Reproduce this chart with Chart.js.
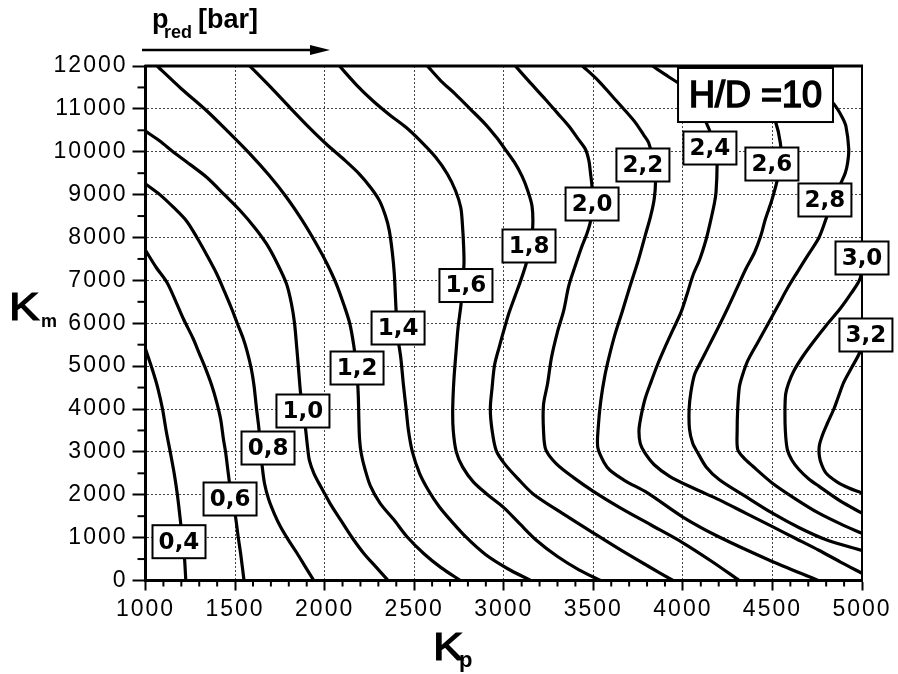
<!DOCTYPE html>
<html>
<head>
<meta charset="utf-8">
<title>p_red contours, H/D = 10</title>
<script src="https://cdn.jsdelivr.net/npm/chart.js@4.4.0/dist/chart.umd.min.js"></script>
<style>
  html, body { margin: 0; padding: 0; background: #fff; }
  #wrap { width: 898px; height: 674px; }
</style>
</head>
<body>
<div id="wrap"><canvas id="c" width="898" height="674"></canvas></div>
<script>
// Contour levels of p_red [bar] over the Kp / Km plane (H/D = 10)
const levels = ['0,4', '0,6', '0,8', '1,0', '1,2', '1,4', '1,6', '1,8', '2,0', '2,2', '2,4', '2,6', '2,8', '3,0', '3,2'];

// Each contour: [Kp, Km] pairs
const c04 = [[1000,5400],[1040,4900],[1068,4500],[1095,4000],[1115,3500],[1138,3000],[1160,2500],[1178,2000],[1192,1500],[1205,1000],[1218,500],[1225,0]];
const c06 = [[1000,7700],[1060,7300],[1120,6950],[1170,6500],[1212,6100],[1265,5650],[1300,5300],[1330,5000],[1370,4550],[1398,4150],[1420,3750],[1435,3300],[1447,3000],[1462,2500],[1478,2000],[1502,1500],[1518,1000],[1532,600],[1550,0]];
const c08 = [[1000,9250],[1080,9000],[1157,8700],[1230,8380],[1287,8000],[1345,7570],[1398,7150],[1440,6750],[1480,6350],[1512,6000],[1545,5650],[1567,5350],[1590,4950],[1605,4570],[1620,4000],[1633,3550],[1642,3100],[1651,2680],[1665,2250],[1688,1890],[1720,1550],[1753,1260],[1800,930],[1847,630],[1895,300],[1940,0]];
const c10 = [[1000,10480],[1080,10250],[1157,9990],[1250,9700],[1343,9400],[1440,9000],[1528,8630],[1610,8230],[1676,7850],[1735,7400],[1787,6920],[1815,6450],[1832,6000],[1845,5400],[1855,4900],[1865,4400],[1880,3900],[1893,3550],[1905,3100],[1915,2800],[1940,2500],[1977,2200],[2030,1800],[2088,1420],[2150,1020],[2219,630],[2290,300],[2355,0]];
const c12 = [[1065,12000],[1200,11470],[1343,10950],[1465,10450],[1583,9950],[1690,9450],[1787,8940],[1875,8400],[1954,7850],[2012,7400],[2065,6920],[2110,6400],[2140,6000],[2162,5500],[2180,4900],[2188,4300],[2191,3780],[2195,3300],[2205,2950],[2225,2600],[2256,2200],[2310,1800],[2386,1420],[2460,1020],[2553,630],[2650,300],[2758,0]];
const c14 = [[1582,12000],[1700,11500],[1806,11030],[1910,10580],[2009,10180],[2105,9830],[2194,9480],[2260,9150],[2306,8860],[2340,8500],[2361,8160],[2378,7650],[2389,7150],[2398,6380],[2408,5700],[2425,5200],[2440,4560],[2455,4000],[2468,3500],[2490,3000],[2530,2500],[2580,2100],[2640,1720],[2700,1420],[2790,1010],[2900,600],[3020,280],[3150,0]];
const c16 = [[2083,12000],[2180,11550],[2269,11190],[2360,10870],[2454,10570],[2540,10230],[2620,9870],[2685,9480],[2731,9090],[2760,8700],[2769,8320],[2776,7800],[2778,7390],[2770,6900],[2762,6460],[2745,5900],[2734,5350],[2722,4700],[2715,4000],[2718,3500],[2735,3000],[2770,2650],[2830,2300],[2910,2000],[3000,1700],[3090,1320],[3182,940],[3300,560],[3420,250],[3540,0]];
const c18 = [[2574,12000],[2650,11650],[2731,11340],[2815,10990],[2898,10640],[2960,10330],[3009,10050],[3060,9750],[3102,9430],[3135,9080],[3158,8730],[3162,8270],[3150,7800],[3126,7400],[3095,7000],[3061,6610],[3030,6250],[3005,5900],[2975,5450],[2949,5030],[2935,4500],[2925,4000],[2935,3500],[2958,3030],[3005,2720],[3080,2370],[3164,2020],[3330,1560],[3500,1110],[3650,720],[3800,350],[3945,0]];
const c20 = [[3065,12000],[3150,11600],[3233,11220],[3300,10900],[3363,10600],[3415,10300],[3456,10060],[3475,9800],[3484,9510],[3493,9160],[3490,8800],[3484,8380],[3465,8100],[3437,7800],[3400,7350],[3363,6870],[3335,6300],[3300,5800],[3266,5190],[3245,4600],[3222,4100],[3222,3500],[3235,3050],[3294,2720],[3390,2400],[3500,2080],[3648,1700],[3820,1300],[4000,880],[4160,450],[4315,0]];
const c22 = [[3440,12000],[3530,11650],[3605,11300],[3680,10950],[3735,10680],[3780,10400],[3809,10210],[3835,9800],[3847,9320],[3840,8900],[3820,8500],[3790,8050],[3750,7450],[3700,6800],[3660,6250],[3621,5740],[3590,5250],[3565,4790],[3542,4200],[3528,3600],[3525,3100],[3560,2750],[3593,2570],[3680,2320],[3800,2050],[4000,1480],[4200,1020],[4480,480],[4755,0]];
const c24 = [[3830,12000],[3920,11750],[3995,11530],[4070,11100],[4126,10720],[4165,10300],[4185,9900],[4191,9700],[4185,9050],[4176,8800],[4150,8300],[4130,7960],[4095,7500],[4056,7115],[4025,6700],[3991,6270],[3945,5850],[3898,5420],[3860,5050],[3824,4650],[3790,4250],[3765,3800],[3755,3500],[3762,3200],[3787,2980],[3840,2700],[3926,2430],[4060,2150],[4204,1880],[4350,1570],[4500,1255],[4630,980],[4759,706],[4880,430],[5000,170]];
const c26 = [[4240,12000],[4380,11500],[4480,11000],[4516,10720],[4544,10210],[4548,9800],[4526,9320],[4495,8850],[4460,8420],[4435,8040],[4400,7650],[4352,7270],[4300,6800],[4250,6350],[4195,5880],[4139,5420],[4100,5100],[4065,4800],[4045,4400],[4035,4000],[4037,3530],[4055,3200],[4083,2980],[4130,2650],[4204,2350],[4350,1960],[4500,1570],[4650,1230],[4800,950],[5000,700]];
const c28 = [[4633,12000],[4720,11650],[4800,11300],[4851,11070],[4890,10800],[4910,10600],[4926,10060],[4920,9750],[4907,9510],[4879,9240],[4840,8850],[4805,8500],[4760,8000],[4700,7600],[4640,7200],[4583,6810],[4530,6400],[4472,5960],[4415,5530],[4361,5115],[4330,4750],[4315,4500],[4306,4000],[4303,3500],[4306,3060],[4340,2860],[4389,2670],[4500,2270],[4630,1900],[4759,1570],[4880,1320],[5000,1100]];
const c30 = [[5000,7500],[4990,7050],[4940,6700],[4880,6350],[4800,5950],[4731,5580],[4670,5230],[4620,4890],[4590,4600],[4574,4350],[4570,4000],[4572,3500],[4583,3060],[4610,2800],[4648,2590],[4700,2380],[4759,2200],[4880,1850],[5000,1570]];
const c32 = [[5000,5700],[4990,5350],[4940,4950],[4898,4620],[4865,4250],[4843,4000],[4805,3650],[4780,3400],[4762,3150],[4762,2900],[4775,2700],[4800,2500],[4860,2300],[4930,2150],[5000,2040]];

const contours = [c04, c06, c08, c10, c12, c14, c16, c18, c20, c22, c24, c26, c28, c30, c32];

// Where each level tag sits (Kp, Km)
const tagKp = [1187, 1472, 1684, 1879, 2181, 2410, 2789, 3141, 3493, 3777, 4151, 4497, 4793, 5000, 5022];
const tagKm = [905, 1901, 3090, 3953, 4956, 5889, 6880, 7802, 8781, 9691, 10087, 9714, 8875, 7522, 5726];

// Parameter box (Kp, Km of its corners)
const paramText = 'H/D =10';
const paramBox = { kp0: 3973, kp1: 4838, km0: 10693, km1: 11954 };

const tickFont = { family: 'Liberation Sans', size: 23 };

function line(ctx, x1, y1, x2, y2, w) {
  ctx.lineWidth = w;
  ctx.beginPath();
  ctx.moveTo(x1, y1);
  ctx.lineTo(x2, y2);
  ctx.stroke();
}

function tag(ctx, cx, cy, text) {
  ctx.font = 'bold 23px "DejaVu Sans"';
  const tw = ctx.measureText(text).width;
  const w = Math.max(53, tw + 12), h = 33;
  ctx.fillStyle = '#fff';
  ctx.fillRect(cx - w / 2, cy - h / 2, w, h);
  ctx.strokeStyle = '#000';
  ctx.lineWidth = 2;
  ctx.strokeRect(cx - w / 2, cy - h / 2, w, h);
  ctx.fillStyle = '#000';
  ctx.textAlign = 'center';
  ctx.textBaseline = 'middle';
  ctx.fillText(text, cx, cy + 1);
}

// heavy text: fill plus a thin outline
function heavyText(ctx, text, x, y, w) {
  ctx.fillText(text, x, y);
  ctx.lineWidth = w;
  ctx.strokeText(text, x, y);
}

const decorations = {
  id: 'decorations',
  beforeDraw(chart) {
    chart.ctx.letterSpacing = '2px';
  },
  afterDraw(chart) {
    const { ctx, chartArea: a, scales: { x, y } } = chart;
    ctx.save();
    ctx.letterSpacing = '0px';
    ctx.strokeStyle = '#000';
    ctx.fillStyle = '#000';

    // frame: top and right edges
    line(ctx, a.left - 1, a.top, a.right + 1, a.top, 3);
    line(ctx, a.right, a.top, a.right, a.bottom, 2);

    // minor ticks
    for (let v = 1100; v < 5000; v += 100) {
      if (v % 500 === 0) continue;
      const px = x.getPixelForValue(v);
      line(ctx, px, a.bottom, px, a.bottom + 6, 2);
    }
    for (let v = 500; v < 12000; v += 1000) {
      const py = y.getPixelForValue(v);
      line(ctx, a.left - 8, py, a.left, py, 2);
    }

    // parameter box
    const bx0 = x.getPixelForValue(paramBox.kp0), bx1 = x.getPixelForValue(paramBox.kp1);
    const by0 = y.getPixelForValue(paramBox.km1), by1 = y.getPixelForValue(paramBox.km0);
    ctx.fillStyle = '#fff';
    ctx.fillRect(bx0, by0, bx1 - bx0, by1 - by0);
    ctx.lineWidth = 2;
    ctx.strokeRect(bx0, by0, bx1 - bx0, by1 - by0);
    ctx.fillStyle = '#000';
    ctx.font = '36px "Liberation Sans"';
    ctx.textAlign = 'center';
    ctx.textBaseline = 'middle';
    heavyText(ctx, paramText, (bx0 + bx1) / 2, (by0 + by1) / 2 + 2, 1.6);

    // level tags
    levels.forEach((t, i) => {
      tag(ctx, x.getPixelForValue(tagKp[i]), y.getPixelForValue(tagKm[i]), t);
    });

    // heading: p_red [bar] with arrow
    ctx.textAlign = 'left';
    ctx.textBaseline = 'alphabetic';
    ctx.font = 'bold 27px "Liberation Sans"';
    ctx.fillText('p', 152, 28);
    ctx.font = 'bold 18px "Liberation Sans"';
    ctx.fillText('red', 164, 38);
    ctx.font = 'bold 27px "Liberation Sans"';
    ctx.fillText('[bar]', 198, 28);
    line(ctx, 142, 50, 316, 50, 2.5);
    ctx.beginPath();
    ctx.moveTo(310, 45);
    ctx.lineTo(330, 50);
    ctx.lineTo(310, 55);
    ctx.closePath();
    ctx.fill();

    // axis titles
    ctx.save();
    ctx.translate(9, 320);
    ctx.scale(1.2, 1);
    ctx.font = '38px "Liberation Sans"';
    heavyText(ctx, 'K', 0, 0, 1.2);
    ctx.restore();
    ctx.font = 'bold 18px "Liberation Sans"';
    ctx.fillText('m', 41, 327);

    ctx.save();
    ctx.translate(433, 660);
    ctx.scale(1.2, 1);
    ctx.font = '38px "Liberation Sans"';
    heavyText(ctx, 'K', 0, 0, 1.2);
    ctx.restore();
    ctx.font = 'bold 22px "Liberation Sans"';
    ctx.fillText('p', 459, 667);

    ctx.restore();
  }
};

const chart = new Chart(document.getElementById('c').getContext('2d'), {
  type: 'line',
  data: {
    datasets: contours.map((pts, i) => ({
      label: levels[i],
      data: pts.map(([kp, km]) => ({ x: kp, y: km })),
      borderColor: '#000',
      borderWidth: 3.2,
      pointRadius: 0,
      tension: 0.3,
      fill: false
    }))
  },
  options: {
    responsive: false,
    animation: false,
    devicePixelRatio: 1,
    layout: { padding: { left: 0, right: 36, top: 66, bottom: 0 } },
    plugins: { legend: { display: false }, tooltip: { enabled: false } },
    scales: {
      x: {
        type: 'linear',
        min: 1000,
        max: 5000,
        ticks: { stepSize: 500, autoSkip: false, maxRotation: 0, padding: 5, color: '#000', font: tickFont, callback: v => String(v) },
        grid: { color: '#444', lineWidth: 1, tickLength: 10, tickColor: '#000', tickWidth: 2, tickBorderDash: [] },
        border: { display: true, color: '#000', width: 3, dash: [2, 2] },
        afterFit(s) { s.height = 93.5; }
      },
      y: {
        type: 'linear',
        min: 0,
        max: 12000,
        ticks: { stepSize: 1000, autoSkip: false, padding: 5, color: '#000', font: tickFont, callback: v => String(v) },
        grid: { color: '#444', lineWidth: 1, tickLength: 13, tickColor: '#000', tickWidth: 2, tickBorderDash: [] },
        border: { display: true, color: '#000', width: 3, dash: [2, 2] },
        afterFit(s) { s.width = 145.5; }
      }
    }
  },
  plugins: [decorations]
});
</script>
</body>
</html>
